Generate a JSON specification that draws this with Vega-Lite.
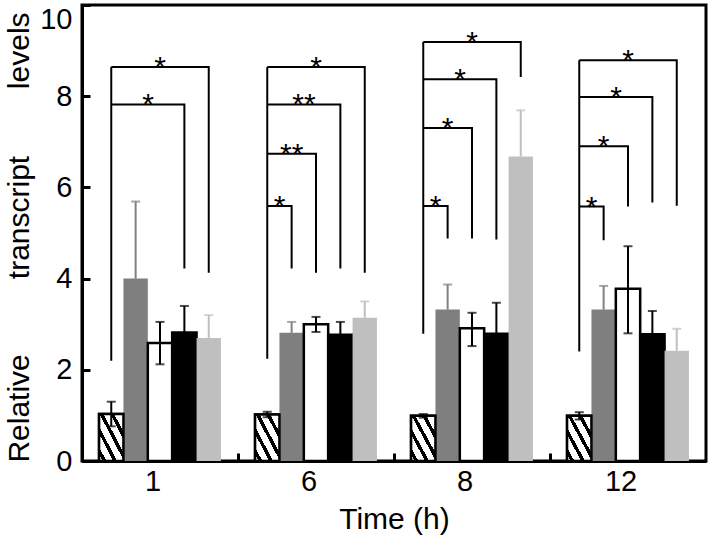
{
  "$schema": "https://vega.github.io/schema/vega-lite/v6.json",
  "autosize": "none",
  "width": 624,
  "height": 456,
  "padding": {"left": 82, "top": 5, "right": 3, "bottom": 82},
  "background": "white",
  "config": {
    "view": {"stroke": "black", "strokeWidth": 3},
    "font": "Liberation Sans",
    "axis": {
      "labelFont": "Liberation Sans", "titleFont": "Liberation Sans",
      "labelColor": "black", "titleColor": "black",
      "labelFontSize": 29, "titleFontSize": 30, "titleFontWeight": "normal",
      "domainColor": "black", "domainWidth": 3,
      "tickColor": "black", "tickWidth": 3, "grid": false
    }
  },
  "datasets": {
    "bars": [
      {"t": "1", "s": "A", "v": 1.03, "lo": 0.76, "hi": 1.30},
      {"t": "1", "s": "B", "v": 4.0, "lo": 4.0, "hi": 5.69},
      {"t": "1", "s": "C", "v": 2.59, "lo": 2.12, "hi": 3.05},
      {"t": "1", "s": "D", "v": 2.82, "lo": 2.24, "hi": 3.40},
      {"t": "1", "s": "E", "v": 2.70, "lo": 2.70, "hi": 3.20},
      {"t": "6", "s": "A", "v": 1.02, "lo": 0.96, "hi": 1.08},
      {"t": "6", "s": "B", "v": 2.81, "lo": 2.81, "hi": 3.05},
      {"t": "6", "s": "C", "v": 3.0, "lo": 2.83, "hi": 3.16},
      {"t": "6", "s": "D", "v": 2.77, "lo": 2.49, "hi": 3.05},
      {"t": "6", "s": "E", "v": 3.14, "lo": 3.14, "hi": 3.50},
      {"t": "8", "s": "A", "v": 0.99, "lo": 0.95, "hi": 1.03},
      {"t": "8", "s": "B", "v": 3.32, "lo": 3.32, "hi": 3.87},
      {"t": "8", "s": "C", "v": 2.91, "lo": 2.52, "hi": 3.25},
      {"t": "8", "s": "D", "v": 2.79, "lo": 2.10, "hi": 3.47},
      {"t": "8", "s": "E", "v": 6.68, "lo": 6.68, "hi": 7.69},
      {"t": "12", "s": "A", "v": 0.99, "lo": 0.91, "hi": 1.07},
      {"t": "12", "s": "B", "v": 3.32, "lo": 3.32, "hi": 3.84},
      {"t": "12", "s": "C", "v": 3.78, "lo": 2.80, "hi": 4.71},
      {"t": "12", "s": "D", "v": 2.78, "lo": 2.28, "hi": 3.29},
      {"t": "12", "s": "E", "v": 2.42, "lo": 2.42, "hi": 2.90}
    ],
    "brackets": [
      {"t": "1", "b": "1L", "s": "A", "y": 2.2, "o": 0},
      {"t": "1", "b": "1L", "s": "A", "y": 8.64, "o": 1},
      {"t": "1", "b": "1E", "s": "A", "y": 8.64, "o": 0},
      {"t": "1", "b": "1E", "s": "E", "y": 8.64, "o": 1},
      {"t": "1", "b": "1E", "s": "E", "y": 4.13, "o": 2},
      {"t": "1", "b": "1D", "s": "A", "y": 7.82, "o": 0},
      {"t": "1", "b": "1D", "s": "D", "y": 7.82, "o": 1},
      {"t": "1", "b": "1D", "s": "D", "y": 4.22, "o": 2},

      {"t": "6", "b": "6L", "s": "A", "y": 2.24, "o": 0},
      {"t": "6", "b": "6L", "s": "A", "y": 8.64, "o": 1},
      {"t": "6", "b": "6E", "s": "A", "y": 8.64, "o": 0},
      {"t": "6", "b": "6E", "s": "E", "y": 8.64, "o": 1},
      {"t": "6", "b": "6E", "s": "E", "y": 4.13, "o": 2},
      {"t": "6", "b": "6D", "s": "A", "y": 7.82, "o": 0},
      {"t": "6", "b": "6D", "s": "D", "y": 7.82, "o": 1},
      {"t": "6", "b": "6D", "s": "D", "y": 4.22, "o": 2},
      {"t": "6", "b": "6C", "s": "A", "y": 6.74, "o": 0},
      {"t": "6", "b": "6C", "s": "C", "y": 6.74, "o": 1},
      {"t": "6", "b": "6C", "s": "C", "y": 4.13, "o": 2},
      {"t": "6", "b": "6B", "s": "A", "y": 5.59, "o": 0},
      {"t": "6", "b": "6B", "s": "B", "y": 5.59, "o": 1},
      {"t": "6", "b": "6B", "s": "B", "y": 4.22, "o": 2},

      {"t": "8", "b": "8L", "s": "A", "y": 2.79, "o": 0},
      {"t": "8", "b": "8L", "s": "A", "y": 9.19, "o": 1},
      {"t": "8", "b": "8E", "s": "A", "y": 9.19, "o": 0},
      {"t": "8", "b": "8E", "s": "E", "y": 9.19, "o": 1},
      {"t": "8", "b": "8E", "s": "E", "y": 8.42, "o": 2},
      {"t": "8", "b": "8D", "s": "A", "y": 8.37, "o": 0},
      {"t": "8", "b": "8D", "s": "D", "y": 8.37, "o": 1},
      {"t": "8", "b": "8D", "s": "D", "y": 4.86, "o": 2},
      {"t": "8", "b": "8C", "s": "A", "y": 7.30, "o": 0},
      {"t": "8", "b": "8C", "s": "C", "y": 7.30, "o": 1},
      {"t": "8", "b": "8C", "s": "C", "y": 4.88, "o": 2},
      {"t": "8", "b": "8B", "s": "A", "y": 5.59, "o": 0},
      {"t": "8", "b": "8B", "s": "B", "y": 5.59, "o": 1},
      {"t": "8", "b": "8B", "s": "B", "y": 4.88, "o": 2},

      {"t": "12", "b": "12L", "s": "A", "y": 2.4, "o": 0},
      {"t": "12", "b": "12L", "s": "A", "y": 8.79, "o": 1},
      {"t": "12", "b": "12E", "s": "A", "y": 8.79, "o": 0},
      {"t": "12", "b": "12E", "s": "E", "y": 8.79, "o": 1},
      {"t": "12", "b": "12E", "s": "E", "y": 5.60, "o": 2},
      {"t": "12", "b": "12D", "s": "A", "y": 7.98, "o": 0},
      {"t": "12", "b": "12D", "s": "D", "y": 7.98, "o": 1},
      {"t": "12", "b": "12D", "s": "D", "y": 5.67, "o": 2},
      {"t": "12", "b": "12C", "s": "A", "y": 6.90, "o": 0},
      {"t": "12", "b": "12C", "s": "C", "y": 6.90, "o": 1},
      {"t": "12", "b": "12C", "s": "C", "y": 5.58, "o": 2},
      {"t": "12", "b": "12B", "s": "A", "y": 5.58, "o": 0},
      {"t": "12", "b": "12B", "s": "B", "y": 5.58, "o": 1},
      {"t": "12", "b": "12B", "s": "B", "y": 4.84, "o": 2}
    ],
    "stars": [
      {"t": "1", "s": "C", "y": 8.64, "lab": "*", "half": false},
      {"t": "1", "s": "C", "y": 7.82, "lab": "*", "half": true},
      {"t": "6", "s": "C", "y": 8.64, "lab": "*", "half": false},
      {"t": "6", "s": "C", "y": 7.82, "lab": "**", "half": true},
      {"t": "6", "s": "B", "y": 6.74, "lab": "**", "half": false},
      {"t": "6", "s": "B", "y": 5.59, "lab": "*", "half": true},
      {"t": "8", "s": "C", "y": 9.19, "lab": "*", "half": false},
      {"t": "8", "s": "C", "y": 8.37, "lab": "*", "half": true},
      {"t": "8", "s": "B", "y": 7.30, "lab": "*", "half": false},
      {"t": "8", "s": "B", "y": 5.59, "lab": "*", "half": true},
      {"t": "12", "s": "C", "y": 8.79, "lab": "*", "half": false},
      {"t": "12", "s": "C", "y": 7.98, "lab": "*", "half": true},
      {"t": "12", "s": "B", "y": 6.90, "lab": "*", "half": false},
      {"t": "12", "s": "B", "y": 5.58, "lab": "*", "half": true}
    ]
  },
  "encoding": {
    "x": {
      "field": "t", "type": "ordinal", "sort": ["1", "6", "8", "12"],
      "scale": {"paddingInner": 0, "paddingOuter": 0},
      "axis": {"title": "Time (h)", "labelAngle": 0, "bandPosition": 0, "tickSize": -8, "labelOffset": -7, "labelPadding": 14, "titlePadding": 8}
    },
    "xOffset": {
      "field": "s", "type": "nominal",
      "scale": {"domain": ["A", "B", "C", "D", "E"], "paddingInner": 0, "paddingOuter": 0.7}
    }
  },
  "layer": [
    {
      "data": {"name": "bars"},
      "mark": {"type": "bar", "strokeWidth": 2.5},
      "encoding": {
        "y": {
          "field": "v", "type": "quantitative",
          "scale": {"domain": [0, 10], "nice": false},
          "axis": {"values": [0, 2, 4, 6, 8, 10], "tickSize": -8, "labelPadding": 18, "titlePadding": 5, "titleY": 232,
                   "labelBaseline": {"condition": {"test": "datum.value === 10", "value": "top"}, "value": "middle"},
                   "title": "Relative\u00a0\u00a0\u00a0\u00a0\u00a0\u00a0\u00a0\u00a0\u00a0transcript\u00a0\u00a0\u00a0\u00a0\u00a0\u00a0\u00a0\u00a0levels"}
        },
        "fill": {"field": "s", "type": "nominal", "legend": null,
                 "scale": {"domain": ["A", "B", "C", "D", "E"], "range": ["white", "#7f7f7f", "white", "black", "#bfbfbf"]}},
        "stroke": {"field": "s", "type": "nominal", "legend": null,
                   "scale": {"domain": ["A", "B", "C", "D", "E"], "range": ["black", "transparent", "black", "black", "transparent"]}}
      }
    },
    {
      "data": {"name": "bars"},
      "transform": [{"filter": "datum.s === 'A'"}],
      "mark": {
        "type": "bar", "stroke": "black", "strokeWidth": 2.5,
        "fill": {
          "gradient": "linear", "x1": 0, "y1": 1, "x2": 1, "y2": 0,
          "stops": [
            {"offset": 0, "color": "white"},
            {"offset": 0.07, "color": "white"}, {"offset": 0.07, "color": "black"},
            {"offset": 0.15, "color": "black"}, {"offset": 0.15, "color": "white"},
            {"offset": 0.29, "color": "white"}, {"offset": 0.29, "color": "black"},
            {"offset": 0.37, "color": "black"}, {"offset": 0.37, "color": "white"},
            {"offset": 0.51, "color": "white"}, {"offset": 0.51, "color": "black"},
            {"offset": 0.59, "color": "black"}, {"offset": 0.59, "color": "white"},
            {"offset": 0.73, "color": "white"}, {"offset": 0.73, "color": "black"},
            {"offset": 0.81, "color": "black"}, {"offset": 0.81, "color": "white"},
            {"offset": 1, "color": "white"}
          ]
        }
      },
      "encoding": {"y": {"field": "v", "type": "quantitative"}}
    },
    {
      "data": {"name": "bars"},
      "mark": {"type": "rule", "strokeWidth": 2},
      "encoding": {
        "y": {"field": "lo", "type": "quantitative"},
        "y2": {"field": "hi"},
        "color": {"field": "s", "type": "nominal", "legend": null,
                  "scale": {"domain": ["A", "B", "C", "D", "E"], "range": ["black", "#808080", "black", "black", "#bfbfbf"]}}
      }
    },
    {
      "data": {"name": "bars"},
      "mark": {"type": "tick", "thickness": 2, "size": 9, "orient": "horizontal"},
      "encoding": {
        "y": {"field": "hi", "type": "quantitative"},
        "color": {"field": "s", "type": "nominal", "legend": null}
      }
    },
    {
      "data": {"name": "bars"},
      "transform": [{"filter": "datum.lo < datum.v"}],
      "mark": {"type": "tick", "thickness": 2, "size": 9, "orient": "horizontal"},
      "encoding": {
        "y": {"field": "lo", "type": "quantitative"},
        "color": {"field": "s", "type": "nominal", "legend": null}
      }
    },
    {
      "data": {"name": "brackets"},
      "mark": {"type": "line", "color": "black", "strokeWidth": 2},
      "encoding": {
        "y": {"field": "y", "type": "quantitative"},
        "detail": {"field": "b"},
        "order": {"field": "o", "type": "quantitative"}
      }
    },
    {
      "data": {"name": "stars"},
      "transform": [{"filter": "!datum.half"}],
      "mark": {"type": "text", "fontSize": 30, "font": "Liberation Sans", "baseline": "alphabetic", "dy": 10, "color": "black"},
      "encoding": {
        "y": {"field": "y", "type": "quantitative"},
        "text": {"field": "lab"}
      }
    },
    {
      "data": {"name": "stars"},
      "transform": [{"filter": "datum.half"}],
      "mark": {"type": "text", "fontSize": 30, "font": "Liberation Sans", "baseline": "alphabetic", "dy": 10, "dx": -12, "color": "black"},
      "encoding": {
        "y": {"field": "y", "type": "quantitative"},
        "text": {"field": "lab"}
      }
    }
  ]
}
